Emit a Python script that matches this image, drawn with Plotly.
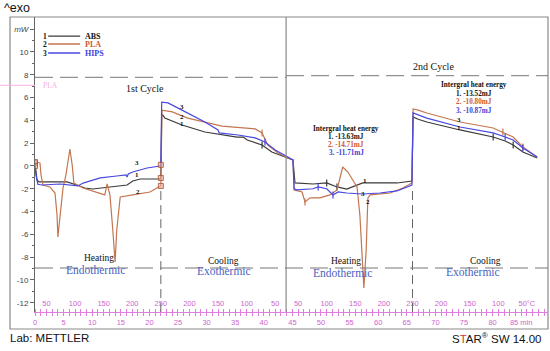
import plotly.graph_objects as go

# ---------------- data (time in min, heat flow in mW) ----------------
abs_time = [0, 0.17, 0.35, 0.7, 5.6, 7.3, 8.7, 10.1, 13.1, 16.1, 17.1, 18.4, 21.85, 22.0,
            22.15, 22.3, 22.7, 24.0, 25.7, 29.7, 35.3, 36.4, 37.1, 39.7, 41.4, 44.2, 45.1,
            45.45, 48.6, 51.0, 52.8, 54.5, 57.3, 63.3, 65.2, 65.9,
            66.1, 67.0, 68.5, 74.3, 80.1, 82.2, 83.6, 85.3, 87.8]
abs_mw = [0.26, -0.53, -1.23, -1.4, -1.4, -1.67, -1.93, -2.02, -1.84, -1.67, -1.32, -1.14, -1.14, -1.05,
          4.4, 4.5, 4.2, 3.95, 3.6, 2.98, 2.54, 2.54, 2.28, 1.84, 1.23, 0.7, 0.53,
          -1.49, -1.58, -1.49, -1.84, -2.02, -1.49, -1.49, -1.4, -1.32,
          4.3, 4.1, 3.86, 3.16, 2.54, 2.19, 1.84, 1.23, 0.7]

hips_time = [0, 0.17, 0.5, 1.2, 4.4, 7.5, 8.4, 11.4, 14.3, 15.9, 16.1, 16.3, 17.1, 19.6, 21.85, 22.0,
             22.15, 23.25, 25.7, 29.7, 32.0, 32.2, 35.5, 38.5, 40.2, 42.0, 44.2, 45.1,
             45.3, 45.8, 48.6, 49.5, 51.0, 52.1, 53.0, 54.5, 57.3, 60.3, 63.3, 65.2, 65.9,
             66.1, 67.0, 68.5, 74.3, 80.1, 82.2, 83.6, 85.3, 87.8]
hips_mw = [0.0, -0.8, -1.6, -1.67, -1.58, -1.75, -1.5, -1.05, -0.88, -0.79, -0.96, -0.7, -0.53, -0.18, 0.0, 0.1,
           5.6, 5.53, 4.9, 3.86, 3.16, 2.9, 2.72, 2.46, 2.1, 1.4, 0.79, 0.53,
           -2.0, -2.1, -2.0, -1.84, -2.0, -2.54, -2.28, -2.37, -2.46, -2.37, -2.19, -1.84, -1.67,
           4.65, 4.47, 4.2, 3.42, 2.9, 2.54, 2.28, 1.58, 0.79]

pla_time = [0, 0.87, 1.05, 1.4, 2.6, 3.5, 3.85, 4.0, 4.4, 4.9, 5.4, 6.1, 6.5, 6.8, 8.4, 11.4, 12.2,
            12.6, 13.1, 13.6, 14.0, 14.3, 14.9, 17.1, 20.1, 21.3, 21.85, 22.0,
            22.2, 24.0, 26.7, 32.7, 38.5, 39.7, 40.7, 42.5, 44.2, 45.1,
            45.3, 46.7, 47.2, 48.1, 49.8, 51.6, 52.8, 53.3, 53.8, 54.7, 56.3, 56.8, 57.2, 57.5,
            57.9, 58.2, 58.6, 62.1, 64.3, 65.9,
            66.1, 67.0, 68.5, 74.3, 80.1, 81.8, 83.6, 85.3, 87.8]
pla_mw = [0.35, 0.26, -0.79, -1.67, -1.84, -2.37, -4.3, -6.23, -4.3, -1.93, -0.8, 1.49, 0.1, -1.5, -1.93, -2.46, -2.54,
          -1.58, -2.54, -5.6, -8.42, -5.6, -2.72, -2.54, -2.28, -1.93, -1.84, -1.75,
          4.9, 4.74, 4.2, 3.5, 3.25, 2.9, 1.84, 1.14, 0.7, 0.53,
          -2.1, -2.28, -3.16, -2.8, -2.8, -2.54, -2.1, -0.96, -0.09, -0.53, -1.84, -4.3, -7.4, -10.7,
          -7.4, -2.8, -2.54, -2.37, -1.93, -1.49,
          5.0, 4.9, 4.65, 3.86, 3.33, 2.98, 2.54, 1.67, 0.79]

# times of the small integration-limit marks on each curve
abs_marks = [39.7, 51.0, 52.8, 80.1, 83.6]
hips_marks = [40.2, 49.5, 52.1, 82.2, 85.3]
pla_marks = [39.7, 47.2, 81.8, 85.3]

series_names = ["ABS", "PLA", "HIPS"]
series_numbers = ["1", "2", "3"]

# y tick labels
y_tick_vals = [12, 10, 8, 6, 4, 2, 0, -2, -4, -6, -8, -10, -12]
y_tick_text = ["<i>mW</i>", "10", "8", "6", "4", "2", "0", "-2", "-4", "-6", "-8", "-10", "-12"]

# time ticks (every minute, labelled every 5)
time_minor = list(range(0, 90))
time_labels = {0: "0", 5: "5", 10: "10", 15: "15", 20: "20", 25: "25", 30: "30", 35: "35",
               40: "40", 45: "45", 50: "50", 55: "55", 60: "60", 65: "65", 70: "70",
               75: "75", 80: "80", 85: "85 min"}
# temperature program labels (time -> temperature)
temp_tick_times = [2, 7, 12, 17, 22, 27, 32, 37, 42, 46, 51, 56, 61, 66, 71, 76, 81, 86]
temp_tick_labels = ["50", "100", "150", "200", "250", "200", "150", "100", "50",
                    "50", "100", "150", "200", "250", "200", "150", "100", "50°C"]

energy_1 = ["1. -13.63mJ", "2. -14.71mJ", "3. -11.71mJ"]
energy_2 = ["1. -13.52mJ", "2. -10.80mJ", "3. -10.87mJ"]

# ---------------- styling ----------------
ABS_C = "#3a3a3a"
PLA_C = "#c47650"
HIPS_C = "#4848e0"
TXT_C = ["#111111", "#cc5a30", "#4040d8"]
PINK = "#dd80dd"
BLUE_T = "#4a62c0"
SERIF = "Liberation Serif, Times New Roman, serif"
SANS = "Liberation Sans, Arial, sans-serif"

fig = go.Figure()
for name, tx, ty, col, marks in [("ABS", abs_time, abs_mw, ABS_C, abs_marks),
                                 ("PLA", pla_time, pla_mw, PLA_C, pla_marks),
                                 ("HIPS", hips_time, hips_mw, HIPS_C, hips_marks)]:
    fig.add_trace(go.Scatter(x=tx, y=ty, mode="lines", name=name,
                             line=dict(color=col, width=1.2), showlegend=False))
    fig.add_trace(go.Scatter(x=marks, y=[ty[tx.index(m)] for m in marks], mode="markers",
                             showlegend=False,
                             marker=dict(symbol="line-ns-open", size=5, color=col,
                                         line=dict(color=col, width=1.2))))

# small square markers at heating segment ends (taken from the data)
mk_x, mk_y = [], []
for tx, ty in [(abs_time, abs_mw), (pla_time, pla_mw), (hips_time, hips_mw)]:
    i_end = tx.index(22.0)
    mk_x += [tx[0], tx[i_end]]
    mk_y += [ty[0], ty[i_end]]
fig.add_trace(go.Scatter(x=mk_x, y=mk_y, mode="markers", xaxis="x2", showlegend=False,
                         marker=dict(symbol="square", size=5, color="rgba(240,170,150,0.6)",
                                     line=dict(color="#a05030", width=0.8))))

X_MAX = 89.69
Y_MIN, Y_MAX = -12.81, 13.07

shapes = []
# outer frame
shapes.append(dict(type="rect", xref="paper", yref="paper", x0=-0.0487, x1=1.0, y0=-0.0576, y1=1.0,
                   line=dict(color="#8a8a8a", width=1.2), layer="below"))
# cycle separator
shapes.append(dict(type="line", xref="x", yref="paper", x0=43.9, x1=43.9, y0=0, y1=1,
                   line=dict(color="#8a8a8a", width=1.2)))
# heating / cooling separators
for tv in [22.0, 66.0]:
    shapes.append(dict(type="line", xref="x", yref="y", x0=tv, x1=tv, y0=-2.2, y1=Y_MIN,
                       line=dict(color="#666666", width=1, dash="9px,5px")))
# horizontal dashed lines
shapes.append(dict(type="line", xref="x", yref="y", x0=0, x1=43.9, y0=7.78, y1=7.78,
                   line=dict(color="#777777", width=1, dash="18px,7px")))
shapes.append(dict(type="line", xref="x", yref="y", x0=43.9, x1=X_MAX, y0=7.92, y1=7.92,
                   line=dict(color="#777777", width=1, dash="18px,7px")))
shapes.append(dict(type="line", xref="x", yref="y", x0=0, x1=X_MAX, y0=-8.95, y1=-8.95,
                   line=dict(color="#777777", width=1, dash="18px,7px")))
# legend lines
leg_y = [11.4, 10.7, 9.91]
for yy, col in zip(leg_y, [ABS_C, PLA_C, HIPS_C]):
    shapes.append(dict(type="line", xref="x", yref="y", x0=2.3, x1=7.9, y0=yy, y1=yy,
                       line=dict(color=col, width=1.3)))
# faint pink artifact line at left
shapes.append(dict(type="line", xref="paper", yref="y", x0=-0.0682, x1=0, y0=7.08, y1=7.08,
                   line=dict(color="#f5b0dc", width=1)))

ann = []
def A(text, x, y, size, color="#111", font=SERIF, xanchor="center", yanchor="middle",
      xref="x", yref="y"):
    ann.append(dict(text=text, x=x, y=y, xref=xref, yref=yref, showarrow=False,
                    font=dict(family=font, size=size, color=color),
                    xanchor=xanchor, yanchor=yanchor))

# legend
for yy, num, nm, col in zip(leg_y, series_numbers, series_names, TXT_C):
    A("<b>%s</b>" % num, 1.75, yy, 7.5)
    A("<b>%s</b>" % nm, 8.4, yy, 8, color=col, xanchor="left")
A("PLA", 1.0, 7.08, 7.5, color="#f5b0dc", xanchor="left")

A("1st Cycle", 19.2, 6.84, 10)
A("2nd Cycle", 69.6, 8.77, 10)

A("<b>Intergral heat energy</b>", 54.4, 3.25, 7.2)
for yy, txt, col in zip([2.54, 1.84, 1.14], energy_1, TXT_C):
    A("<b>%s</b>" % txt, 54.4, yy, 7.2, color=col)
A("<b>Intergral heat energy</b>", 76.75, 7.1, 7.2)
for yy, txt, col in zip([6.32, 5.61, 4.82], energy_2, TXT_C):
    A("<b>%s</b>" % txt, 76.75, yy, 7.2, color=col)

for tx, lab_y in [(11.2, -8.1), (54.4, -8.3)]:
    A("Heating", tx, lab_y, 9.5)
for tx, lab_y in [(32.9, -8.3), (78.8, -8.3)]:
    A("Cooling", tx, lab_y, 9.5)
A("Endothermic", 10.5, -9.15, 11.5, color=BLUE_T)
A("Endothermic", 53.7, -9.35, 11.5, color=BLUE_T)
A("Exothermic", 33.0, -9.25, 11.5, color=BLUE_T)
A("Exothermic", 76.6, -9.3, 11.5, color=BLUE_T)

# curve number labels
for txt, x, y in [("3", 17.8, 0.3), ("1", 17.8, -0.78), ("2", 18.0, -2.25),
                  ("3", 25.7, 5.2), ("2", 25.7, 4.3), ("1", 25.7, 3.7),
                  ("1", 57.7, -1.35), ("3", 57.3, -2.45), ("2", 58.2, -3.2),
                  ("3", 74.1, 4.05), ("1", 74.1, 3.3)]:
    A("<b>%s</b>" % txt, x, y, 7)

# outside texts
A("^exo", -0.064, 1.031, 12.5, font=SANS, xanchor="left", xref="paper", yref="paper")
A("Lab: METTLER", -0.052, -0.088, 11.5, font=SANS, xanchor="left", xref="paper", yref="paper")
A("S<span style='color:#d23a2a'>T</span>AR<sup>®</sup> SW 14.00", 0.99, -0.088, 11.5,
  font=SANS, xanchor="right", xref="paper", yref="paper")

fig.update_layout(
    width=550, height=351,
    margin=dict(l=35, r=2, t=17, b=39),
    paper_bgcolor="white", plot_bgcolor="white",
    shapes=shapes, annotations=ann, showlegend=False,
    xaxis=dict(range=[0, X_MAX], showgrid=False, zeroline=False,
               showline=True, linecolor=PINK, linewidth=1,
               tickmode="array", tickvals=time_minor,
               ticktext=[time_labels.get(t, "") for t in time_minor],
               ticks="outside", ticklen=3, tickcolor=PINK, tickwidth=1,
               tickfont=dict(family=SANS, size=7.5, color="#cc66cc")),
    # temperature scale: ticks pointing up from the bottom line, labels above it
    xaxis2=dict(range=[0, X_MAX], overlaying="x", side="top", anchor="free", position=0,
                showgrid=False, zeroline=False, showline=False,
                tickmode="array", tickvals=time_minor,
                ticktext=[temp_tick_labels[temp_tick_times.index(t)] if t in temp_tick_times else ""
                          for t in time_minor],
                ticks="outside", ticklen=3, tickcolor=PINK, tickwidth=1,
                tickfont=dict(family=SANS, size=7.5, color="#cc66cc")),
    yaxis=dict(range=[Y_MIN, Y_MAX], showgrid=False, zeroline=False,
               showline=True, linecolor="#666666", linewidth=1,
               tickmode="array", tickvals=y_tick_vals, ticktext=y_tick_text,
               ticks="outside", ticklen=4, tickcolor="#666666",
               minor=dict(tickvals=[11, 9, 7, 5, 3, 1, -1, -3, -5, -7, -9, -11],
                          ticks="outside", ticklen=2, tickcolor="#666666"),
               tickfont=dict(family=SANS, size=8, color="#444444")),
)

fig.write_html("out.html", config={"displayModeBar": False},
               post_script="document.body.style.margin='0';document.body.style.overflow='hidden';")
